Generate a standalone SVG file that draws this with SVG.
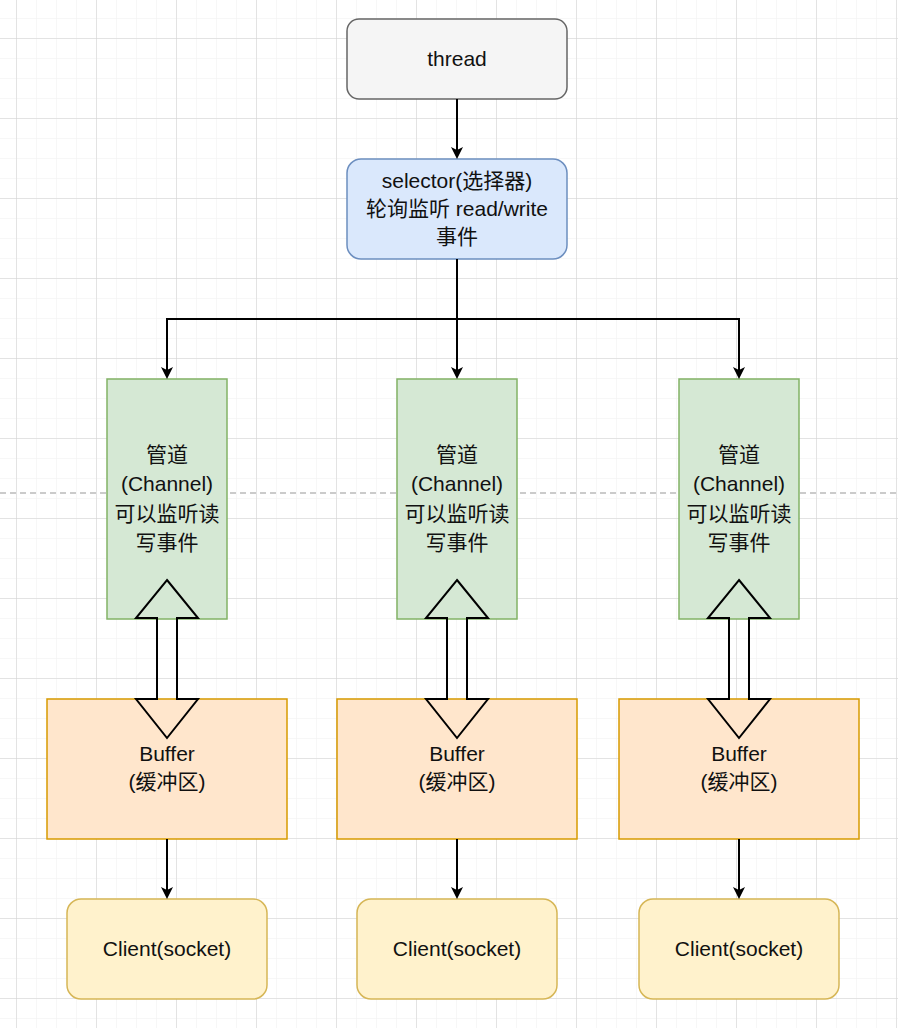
<svg xmlns="http://www.w3.org/2000/svg" width="898" height="1028" viewBox="0 0 898 1028">
<defs>
<pattern id="minor" width="20" height="20" patternUnits="userSpaceOnUse" x="16" y="18"><path d="M0 0H20M0 0V20" fill="none" stroke="#f0f0f0" stroke-width="1"/></pattern>
<pattern id="major" width="80" height="80" patternUnits="userSpaceOnUse" x="16" y="38"><path d="M0 0H80M0 0V80" fill="none" stroke="#d0d0d0" stroke-width="1"/></pattern>
<marker id="ah" markerWidth="12" markerHeight="12" refX="10" refY="6" orient="auto" markerUnits="userSpaceOnUse"><path d="M0 0L12 6L0 12L3 6Z" fill="#000"/></marker>
<style>
text{font-family:"Liberation Sans","Noto Sans CJK SC",sans-serif;font-size:21px;fill:#111;text-anchor:middle}
.ch rect{fill:#d5e8d4;stroke:#82b366;stroke-width:1.5}
.bf rect{fill:#ffe6cc;stroke:#d79b00;stroke-width:1.5}
.cl rect{fill:#fff2cc;stroke:#d6b656;stroke-width:1.5}
.c{fill:none;stroke:#000;stroke-width:2}
.dbl{fill:none;stroke:#000;stroke-width:2}
</style>
</defs>
<rect width="898" height="1028" fill="#fff"/>
<rect width="898" height="1028" fill="url(#minor)"/>
<rect width="898" height="1028" fill="url(#major)"/>
<line x1="0" y1="493" x2="898" y2="493" stroke="#bbb" stroke-dasharray="6 4" stroke-width="1.5"/>

<g id="thread"><rect x="347" y="19" width="220" height="80" rx="12" fill="#f5f5f5" stroke="#666" stroke-width="1.5"/><text x="457" y="66" fill="#333">thread</text></g>
<g id="selector"><rect x="347" y="159" width="220" height="100" rx="14" fill="#dae8fc" stroke="#6c8ebf" stroke-width="1.5"/><text x="457" y="188">selector(选择器)</text><text x="457" y="216">轮询监听 read/write</text><text x="457" y="244">事件</text></g>

<g id="channel1" class="ch"><rect x="107" y="379" width="120" height="240"/><text x="167" y="462">管道</text><text x="167" y="491">(Channel)</text><text x="167" y="521">可以监听读</text><text x="167" y="550">写事件</text></g>
<g id="channel2" class="ch"><rect x="397" y="379" width="120" height="240"/><text x="457" y="462">管道</text><text x="457" y="491">(Channel)</text><text x="457" y="521">可以监听读</text><text x="457" y="550">写事件</text></g>
<g id="channel3" class="ch"><rect x="679" y="379" width="120" height="240"/><text x="739" y="462">管道</text><text x="739" y="491">(Channel)</text><text x="739" y="521">可以监听读</text><text x="739" y="550">写事件</text></g>

<g id="buffer1" class="bf"><rect x="47" y="699" width="240" height="140"/><text x="167" y="761">Buffer</text><text x="167" y="789">(缓冲区)</text></g>
<g id="buffer2" class="bf"><rect x="337" y="699" width="240" height="140"/><text x="457" y="761">Buffer</text><text x="457" y="789">(缓冲区)</text></g>
<g id="buffer3" class="bf"><rect x="619" y="699" width="240" height="140"/><text x="739" y="761">Buffer</text><text x="739" y="789">(缓冲区)</text></g>

<g id="client1" class="cl"><rect x="67" y="899" width="200" height="100" rx="14"/><text x="167" y="956">Client(socket)</text></g>
<g id="client2" class="cl"><rect x="357" y="899" width="200" height="100" rx="14"/><text x="457" y="956">Client(socket)</text></g>
<g id="client3" class="cl"><rect x="639" y="899" width="200" height="100" rx="14"/><text x="739" y="956">Client(socket)</text></g>

<g id="connectors">
<path class="c" d="M457 99V157" marker-end="url(#ah)"/>
<path class="c" d="M457 259V377" marker-end="url(#ah)"/>
<path class="c" d="M457 319H167V377" marker-end="url(#ah)"/>
<path class="c" d="M457 319H739V377" marker-end="url(#ah)"/>
<path class="c" d="M167 839V897" marker-end="url(#ah)"/>
<path class="c" d="M457 839V897" marker-end="url(#ah)"/>
<path class="c" d="M739 839V897" marker-end="url(#ah)"/>
<path class="dbl" d="M167 580L198 618H177V699H198L167 738L136 699H157V618H136Z"/>
<path class="dbl" d="M457 580L488 618H467V699H488L457 738L426 699H447V618H426Z"/>
<path class="dbl" d="M739 580L770 618H749V699H770L739 738L708 699H729V618H708Z"/>
</g>
</svg>
